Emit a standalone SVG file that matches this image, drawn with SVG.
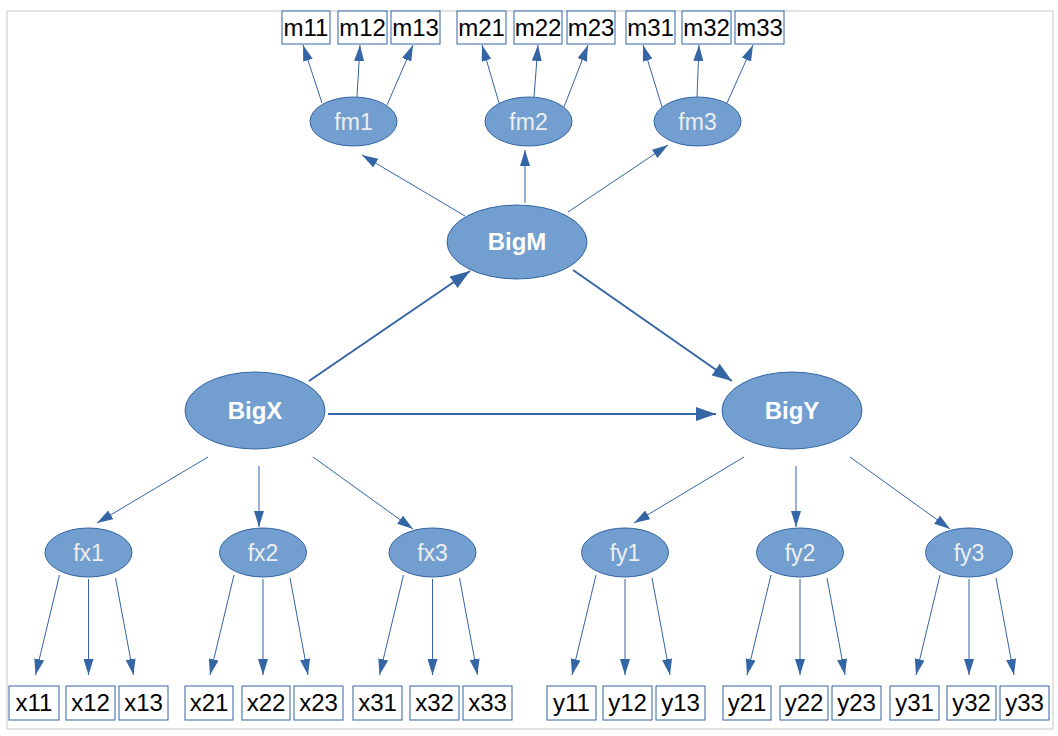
<svg xmlns="http://www.w3.org/2000/svg" width="1058" height="736" viewBox="0 0 1058 736">
<style>
.box{fill:#ffffff;stroke:#3465a4;stroke-width:1}
.bt{font-family:"Liberation Sans",Arial,sans-serif;font-size:24px;fill:#000000;text-anchor:middle}
.el{fill:#729fcf;stroke:#3465a4;stroke-width:1}
.et{font-family:"Liberation Sans",Arial,sans-serif;font-size:23px;fill:#eeeeee;text-anchor:middle}
.bigt{font-family:"Liberation Sans",Arial,sans-serif;font-size:24px;font-weight:bold;fill:#ffffff;text-anchor:middle}
.c{stroke:#3465a4;stroke-width:1;fill:none;marker-end:url(#ah)}
.ct{stroke:#3465a4;stroke-width:2;fill:none;marker-end:url(#ahb)}
</style>
<defs>
<marker id="ah" viewBox="0 0 16 10" refX="16" refY="5" markerWidth="16" markerHeight="10" markerUnits="userSpaceOnUse" orient="auto">
<path d="M0,0 L16,5 L0,10 z" fill="#3465a4"/>
</marker>
<marker id="ahb" viewBox="0 0 20 14" refX="20" refY="7" markerWidth="20" markerHeight="14" markerUnits="userSpaceOnUse" orient="auto">
<path d="M0,0 L20,7 L0,14 z" fill="#3465a4"/>
</marker>
</defs>
<rect x="0" y="0" width="1058" height="736" fill="#ffffff"/>
<rect x="7" y="11" width="1046" height="718" fill="none" stroke="#c8c8c8" stroke-width="1"/>

<g id="connectors">
<line class="c" x1="322" y1="103" x2="303" y2="45"/>
<line class="c" x1="357" y1="97" x2="360" y2="45"/>
<line class="c" x1="387" y1="105" x2="413" y2="45"/>
<line class="c" x1="499" y1="103" x2="482" y2="45"/>
<line class="c" x1="534" y1="97" x2="538" y2="45"/>
<line class="c" x1="564" y1="107" x2="588" y2="45"/>
<line class="c" x1="662" y1="107" x2="643" y2="45"/>
<line class="c" x1="697" y1="97" x2="699" y2="45"/>
<line class="c" x1="727" y1="103" x2="753" y2="45"/>

<line class="c" x1="465" y1="216" x2="362" y2="155"/>
<line class="c" x1="525" y1="203" x2="525" y2="150"/>
<line class="c" x1="568" y1="212" x2="668" y2="145"/>

<line class="ct" x1="309" y1="381" x2="470" y2="271"/>
<line class="ct" x1="573" y1="270" x2="732" y2="381"/>
<line class="ct" x1="328" y1="414" x2="716" y2="414"/>

<line class="c" x1="208" y1="457" x2="97" y2="523"/>
<line class="c" x1="259" y1="466" x2="259" y2="527"/>
<line class="c" x1="313" y1="457" x2="413" y2="529"/>
<line class="c" x1="744" y1="457" x2="634" y2="523"/>
<line class="c" x1="796" y1="466" x2="796" y2="527"/>
<line class="c" x1="850" y1="457" x2="950" y2="529"/>

<line class="c" x1="59.5" y1="575" x2="35.5" y2="675"/>
<line class="c" x1="88.5" y1="579" x2="88.5" y2="675"/>
<line class="c" x1="115.5" y1="578" x2="133.5" y2="675"/>
<line class="c" x1="234" y1="575" x2="210" y2="675"/>
<line class="c" x1="263" y1="579" x2="263" y2="675"/>
<line class="c" x1="290" y1="578" x2="308" y2="675"/>
<line class="c" x1="403.5" y1="575" x2="379.5" y2="675"/>
<line class="c" x1="432.5" y1="579" x2="432.5" y2="675"/>
<line class="c" x1="459.5" y1="578" x2="477.5" y2="675"/>
<line class="c" x1="596" y1="575" x2="572" y2="675"/>
<line class="c" x1="625" y1="579" x2="625" y2="675"/>
<line class="c" x1="652" y1="578" x2="670" y2="675"/>
<line class="c" x1="771" y1="575" x2="747" y2="675"/>
<line class="c" x1="800" y1="579" x2="800" y2="675"/>
<line class="c" x1="827" y1="578" x2="845" y2="675"/>
<line class="c" x1="940" y1="575" x2="916" y2="675"/>
<line class="c" x1="969" y1="579" x2="969" y2="675"/>
<line class="c" x1="996" y1="578" x2="1014" y2="675"/>
</g>

<g id="m11"><rect class="box" x="282" y="11" width="48" height="33"/><text class="bt" x="306" y="36">m11</text></g>
<g id="m12"><rect class="box" x="338" y="11" width="49" height="33"/><text class="bt" x="362.5" y="36">m12</text></g>
<g id="m13"><rect class="box" x="391" y="11" width="49" height="33"/><text class="bt" x="415.5" y="36">m13</text></g>
<g id="m21"><rect class="box" x="457" y="11" width="49" height="33"/><text class="bt" x="481.5" y="36">m21</text></g>
<g id="m22"><rect class="box" x="514" y="11" width="48" height="33"/><text class="bt" x="538" y="36">m22</text></g>
<g id="m23"><rect class="box" x="567" y="11" width="48" height="33"/><text class="bt" x="591" y="36">m23</text></g>
<g id="m31"><rect class="box" x="626" y="11" width="49" height="33"/><text class="bt" x="650.5" y="36">m31</text></g>
<g id="m32"><rect class="box" x="682" y="11" width="49" height="33"/><text class="bt" x="706.5" y="36">m32</text></g>
<g id="m33"><rect class="box" x="735" y="11" width="49" height="33"/><text class="bt" x="759.5" y="36">m33</text></g>

<g id="fm1"><ellipse class="el" cx="353.5" cy="121.5" rx="43.5" ry="24.5"/><text class="et" x="353.5" y="130">fm1</text></g>
<g id="fm2"><ellipse class="el" cx="528.5" cy="121.5" rx="43.5" ry="24.5"/><text class="et" x="528.5" y="130">fm2</text></g>
<g id="fm3"><ellipse class="el" cx="697.5" cy="121.5" rx="43.5" ry="24.5"/><text class="et" x="697.5" y="130">fm3</text></g>

<g id="BigM"><ellipse class="el" cx="517" cy="242" rx="70" ry="37"/><text class="bigt" x="517" y="250">BigM</text></g>
<g id="BigX"><ellipse class="el" cx="255" cy="410.5" rx="70" ry="38.5"/><text class="bigt" x="255" y="419">BigX</text></g>
<g id="BigY"><ellipse class="el" cx="792" cy="410.5" rx="70" ry="38.5"/><text class="bigt" x="792" y="419">BigY</text></g>

<g id="fx1"><ellipse class="el" cx="88.5" cy="552.5" rx="43.5" ry="24.5"/><text class="et" x="88.5" y="561">fx1</text></g>
<g id="fx2"><ellipse class="el" cx="263" cy="552.5" rx="43.5" ry="24.5"/><text class="et" x="263" y="561">fx2</text></g>
<g id="fx3"><ellipse class="el" cx="432.5" cy="552.5" rx="43.5" ry="24.5"/><text class="et" x="432.5" y="561">fx3</text></g>
<g id="fy1"><ellipse class="el" cx="625" cy="552.5" rx="43.5" ry="24.5"/><text class="et" x="625" y="561">fy1</text></g>
<g id="fy2"><ellipse class="el" cx="800" cy="552.5" rx="43.5" ry="24.5"/><text class="et" x="800" y="561">fy2</text></g>
<g id="fy3"><ellipse class="el" cx="969" cy="552.5" rx="43.5" ry="24.5"/><text class="et" x="969" y="561">fy3</text></g>

<g id="x11"><rect class="box" x="9" y="686" width="50" height="34"/><text class="bt" x="34" y="711">x11</text></g>
<g id="x12"><rect class="box" x="66" y="686" width="49" height="34"/><text class="bt" x="90.5" y="711">x12</text></g>
<g id="x13"><rect class="box" x="119" y="686" width="49" height="34"/><text class="bt" x="143.5" y="711">x13</text></g>
<g id="x21"><rect class="box" x="185" y="686" width="48" height="34"/><text class="bt" x="209" y="711">x21</text></g>
<g id="x22"><rect class="box" x="242" y="686" width="48" height="34"/><text class="bt" x="266" y="711">x22</text></g>
<g id="x23"><rect class="box" x="294" y="686" width="49" height="34"/><text class="bt" x="318.5" y="711">x23</text></g>
<g id="x31"><rect class="box" x="353" y="686" width="49" height="34"/><text class="bt" x="377.5" y="711">x31</text></g>
<g id="x32"><rect class="box" x="410" y="686" width="49" height="34"/><text class="bt" x="434.5" y="711">x32</text></g>
<g id="x33"><rect class="box" x="463" y="686" width="49" height="34"/><text class="bt" x="487.5" y="711">x33</text></g>
<g id="y11"><rect class="box" x="547" y="686" width="49" height="34"/><text class="bt" x="571.5" y="711">y11</text></g>
<g id="y12"><rect class="box" x="603" y="686" width="49" height="34"/><text class="bt" x="627.5" y="711">y12</text></g>
<g id="y13"><rect class="box" x="656" y="686" width="49" height="34"/><text class="bt" x="680.5" y="711">y13</text></g>
<g id="y21"><rect class="box" x="723" y="686" width="48" height="34"/><text class="bt" x="747" y="711">y21</text></g>
<g id="y22"><rect class="box" x="780" y="686" width="48" height="34"/><text class="bt" x="804" y="711">y22</text></g>
<g id="y23"><rect class="box" x="832" y="686" width="49" height="34"/><text class="bt" x="856.5" y="711">y23</text></g>
<g id="y31"><rect class="box" x="890" y="686" width="49" height="34"/><text class="bt" x="914.5" y="711">y31</text></g>
<g id="y32"><rect class="box" x="947" y="686" width="49" height="34"/><text class="bt" x="971.5" y="711">y32</text></g>
<g id="y33"><rect class="box" x="1000" y="686" width="49" height="34"/><text class="bt" x="1024.5" y="711">y33</text></g>
</svg>
